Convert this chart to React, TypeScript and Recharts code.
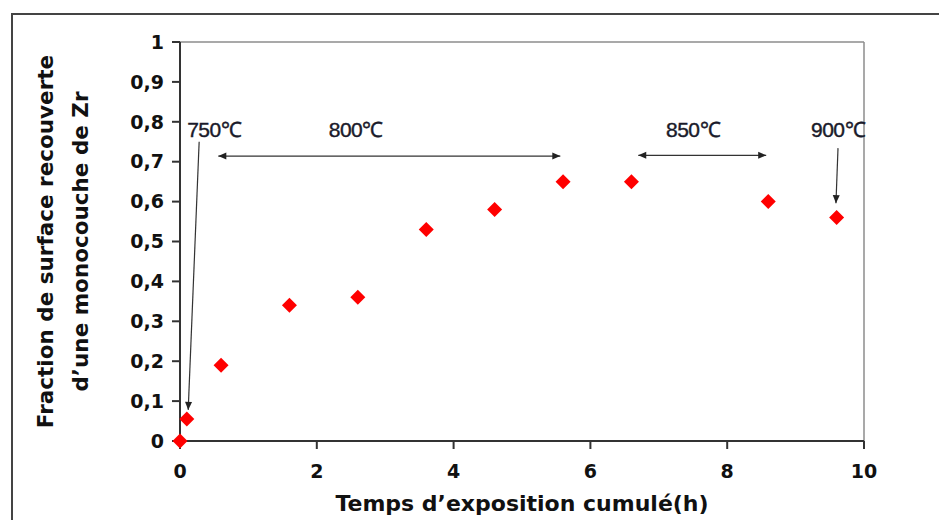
import { ScatterChart, Scatter, XAxis, YAxis, ReferenceLine, ReferenceDot } from "recharts";

// cumulative exposure time (h) vs Zr monolayer coverage fraction
const timeHours = [0, 0.1, 0.6, 1.6, 2.6, 3.6, 4.6, 5.6, 6.6, 8.6, 9.6];
const coverage = [0, 0.055, 0.19, 0.34, 0.36, 0.53, 0.58, 0.65, 0.65, 0.6, 0.56];

const xTicks = [0, 2, 4, 6, 8, 10];
const yTicks = [0, 0.1, 0.2, 0.3, 0.4, 0.5, 0.6, 0.7, 0.8, 0.9, 1];

// temperature annotations
const tempLabels = ["750℃", "800℃", "850℃", "900℃"];
const tempLabelX = [0.5, 2.57, 7.5, 9.62];
const tempLabelY = [0.78, 0.78, 0.78, 0.78];

// arrows: [x1, y1, x2, y2], double headed or not
const arrowStart = [
  [0.28, 0.75],
  [0.56, 0.714],
  [6.7, 0.716],
  [9.62, 0.734],
];
const arrowEnd = [
  [0.12, 0.078],
  [5.56, 0.714],
  [8.57, 0.716],
  [9.59, 0.596],
];
const arrowBothEnds = [false, true, true, false];

const data = timeHours.map((t, i) => ({ t, v: coverage[i] }));

const FONT = "'DejaVu Sans', Verdana, sans-serif";
const TEMP_FONT = "'Liberation Sans', Arial, sans-serif";

function Diamond(props: any) {
  const { cx, cy } = props;
  const r = 7.5;
  return (
    <polygon
      points={`${cx},${cy - r} ${cx + r},${cy} ${cx},${cy + r} ${cx - r},${cy}`}
      fill="#ff0000"
    />
  );
}

function head(x1: number, y1: number, x2: number, y2: number) {
  // arrow head at (x2, y2)
  const a = Math.atan2(y2 - y1, x2 - x1);
  const len = 8;
  const w = 3.5;
  const bx = x2 - len * Math.cos(a);
  const by = y2 - len * Math.sin(a);
  const px = -Math.sin(a) * w;
  const py = Math.cos(a) * w;
  return `${x2},${y2} ${bx + px},${by + py} ${bx - px},${by - py}`;
}

function makeArrow(both: boolean) {
  return (props: any) => {
    const { x1, y1, x2, y2 } = props;
    return (
      <g>
        <line x1={x1} y1={y1} x2={x2} y2={y2} stroke="#333" strokeWidth={1.2} />
        <polygon points={head(x1, y1, x2, y2)} fill="#222" />
        {both && <polygon points={head(x2, y2, x1, y1)} fill="#222" />}
      </g>
    );
  };
}

function makeTempText(label: string) {
  return (props: any) => (
    <text
      x={props.cx}
      y={props.cy}
      textAnchor="middle"
      dominantBaseline="central"
      fontFamily={TEMP_FONT}
      fontSize={21}
      letterSpacing={-0.5}
      stroke="#1a1a2a"
      strokeWidth={0.4}
      fill="#1a1a2a"
    >
      {label}
    </text>
  );
}

function YTitle(props: any) {
  const { x, y, height } = props.viewBox;
  const cy = y + height / 2;
  return (
    <g fontFamily={FONT} fontWeight="bold" fontSize={21.5} fill="#111">
      <text x={x - 75} y={cy} textAnchor="middle" transform={`rotate(-90 ${x - 75} ${cy})`} dominantBaseline="central">
        Fraction de surface recouverte
      </text>
      <text x={x - 40} y={cy} textAnchor="middle" transform={`rotate(-90 ${x - 40} ${cy})`} dominantBaseline="central">
        d’une monocouche de Zr
      </text>
    </g>
  );
}

function XTitle(props: any) {
  const { x, y, width } = props.viewBox;
  return (
    <text
      x={x + width / 2}
      y={y + 62}
      textAnchor="middle"
      dominantBaseline="central"
      fontFamily={FONT}
      fontWeight="bold"
      fontSize={22}
      fill="#111"
    >
      Temps d’exposition cumulé(h)
    </text>
  );
}

export default function App() {
  return (
    <div style={{ position: "absolute", left: 0, top: 0, width: 939, height: 520, background: "#fff", overflow: "hidden" }}>
      <div
        style={{
          position: "absolute",
          left: 11,
          top: 13,
          width: 960,
          height: 540,
          border: "2px solid #444",
        }}
      />
      <div style={{ position: "absolute", left: 0, top: 0 }}>
        <ScatterChart width={939} height={520} margin={{ top: 42, right: 75, bottom: 9, left: 120 }}>
          <XAxis
            type="number"
            dataKey="t"
            domain={[0, 10]}
            ticks={xTicks}
            interval={0}
            height={70}
            tickSize={8}
            tickMargin={16}
            axisLine={{ stroke: "#333", strokeWidth: 2 }}
            tickLine={{ stroke: "#333", strokeWidth: 2 }}
            tick={{ fill: "#111", fontFamily: FONT, fontWeight: "bold", fontSize: 19 }}
            label={<XTitle />}
          />
          <YAxis
            type="number"
            dataKey="v"
            domain={[0, 1]}
            ticks={yTicks}
            interval={0}
            width={60}
            tickSize={8}
            tickMargin={8}
            axisLine={{ stroke: "#333", strokeWidth: 2 }}
            tickLine={{ stroke: "#333", strokeWidth: 2 }}
            tick={{ fill: "#111", fontFamily: FONT, fontWeight: "bold", fontSize: 19 }}
            tickFormatter={(v: number) => String(Math.round(v * 10) / 10).replace(".", ",")}
            label={<YTitle />}
          />
          <ReferenceLine y={1} stroke="#8c8c8c" strokeWidth={1.5} />
          <ReferenceLine x={10} stroke="#8c8c8c" strokeWidth={1.5} />
          {arrowStart.map((s, i) => (
            <ReferenceLine
              key={"a" + i}
              segment={[
                { x: s[0], y: s[1] },
                { x: arrowEnd[i][0], y: arrowEnd[i][1] },
              ]}
              shape={makeArrow(arrowBothEnds[i])}
            />
          ))}
          {tempLabels.map((lab, i) => (
            <ReferenceDot key={"t" + i} x={tempLabelX[i]} y={tempLabelY[i]} r={0} shape={makeTempText(lab)} />
          ))}
          <Scatter data={data} shape={<Diamond />} isAnimationActive={false} />
        </ScatterChart>
      </div>
    </div>
  );
}
